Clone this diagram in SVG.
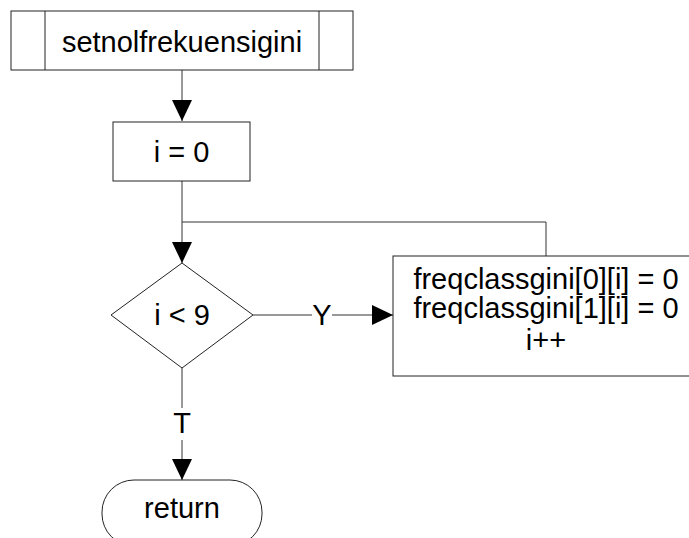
<svg xmlns="http://www.w3.org/2000/svg" width="689" height="538" viewBox="0 0 689 538">
<style>
.shape{fill:#fff;stroke:#222;stroke-width:1}
.line{fill:none;stroke:#333;stroke-width:1}
.t{font-family:"Liberation Sans",Arial,sans-serif;font-size:29px;fill:#000;text-anchor:middle}
</style>
<defs>
<marker id="arr" markerUnits="userSpaceOnUse" markerWidth="21" markerHeight="20" refX="21" refY="10" orient="auto" viewBox="0 0 21 20">
<path d="M0,0 L21,10 L0,20 Z" fill="#000"/>
</marker>
</defs>
<rect width="689" height="538" fill="#fff"/>
<g id="connectors">
<line class="line" x1="182" y1="70" x2="182" y2="121" marker-end="url(#arr)"/>
<line class="line" x1="182" y1="181" x2="182" y2="263" marker-end="url(#arr)"/>
<polyline class="line" points="182,222 546,222 546,256"/>
<line class="line" x1="253" y1="315" x2="312" y2="315"/>
<line class="line" x1="332" y1="315" x2="393" y2="315" marker-end="url(#arr)"/>
<line class="line" x1="182" y1="368" x2="182" y2="408"/>
<line class="line" x1="182" y1="440" x2="182" y2="480" marker-end="url(#arr)"/>
<text class="t" x="322" y="325">Y</text>
<text class="t" x="182" y="433">T</text>
</g>
<g id="start">
<rect class="shape" x="11" y="11" width="342" height="59"/>
<line class="shape" x1="45" y1="11" x2="45" y2="70"/>
<line class="shape" x1="319" y1="11" x2="319" y2="70"/>
<text class="t" x="182" y="52">setnolfrekuensigini</text>
</g>
<g id="init">
<rect class="shape" x="113" y="122" width="137" height="59"/>
<text class="t" x="181.5" y="162">i = 0</text>
</g>
<g id="cond">
<polygon class="shape" points="182,263 253,315 182,368 111,315"/>
<text class="t" x="182" y="325">i &lt; 9</text>
</g>
<g id="body">
<rect class="shape" x="393" y="256" width="310" height="120"/>
<text class="t" x="546" y="289">freqclassgini[0][i] = 0</text>
<text class="t" x="546" y="318">freqclassgini[1][i] = 0</text>
<text class="t" x="546" y="350">i++</text>
</g>
<g id="end">
<rect class="shape" x="102" y="480" width="160" height="66" rx="32" ry="32"/>
<text class="t" x="182" y="518">return</text>
</g>
</svg>
